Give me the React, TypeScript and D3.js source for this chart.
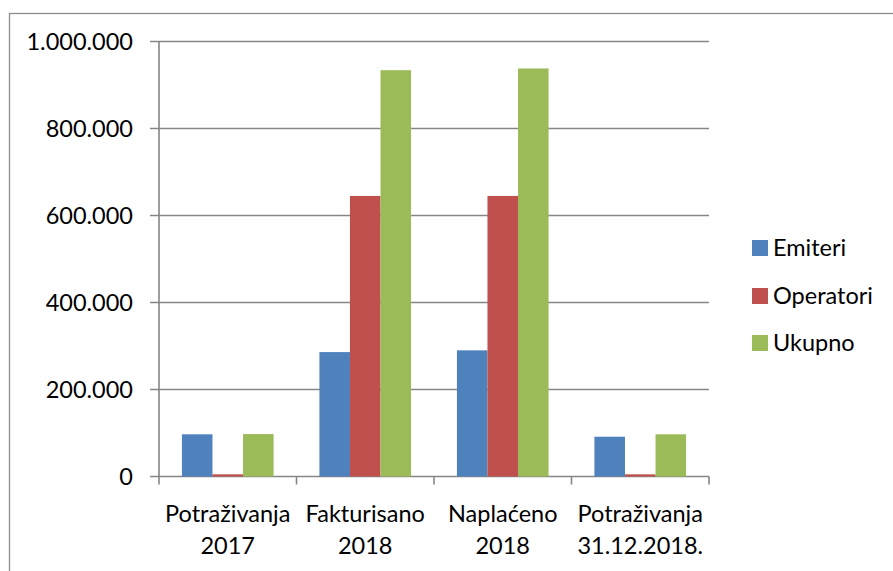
import React from "react";
import * as d3 from "d3";

const categories = [["Potraživanja", "2017"], ["Fakturisano", "2018"], ["Naplaćeno", "2018"], ["Potraživanja", "31.12.2018."]];
const seriesNames = ["Emiteri", "Operatori", "Ukupno"];
const emiteri = [97000, 286000, 290000, 91500];
const operatori = [5000, 645000, 645000, 5000];
const ukupno = [97500, 934000, 938000, 97000];
const yTicks = [0, 200000, 400000, 600000, 800000, 1000000];
const colors = ["#4F81BD", "#C0504D", "#9BBB59"];

const values = [emiteri, operatori, ukupno];
const FONT = "Lato, 'Open Sans', sans-serif";

export default function App() {
  const x0 = 159, x1 = 709, yTop = 41.5, yZero = 476.5;
  const x = d3.scaleBand<number>().domain(d3.range(categories.length)).range([x0, x1]).padding(0);
  const xi = d3.scaleBand<number>().domain(d3.range(seriesNames.length)).range([0, x.bandwidth()]).paddingInner(0).paddingOuter(0.75);
  const y = d3.scaleLinear().domain([0, 1000000]).range([yZero, yTop]);
  const loc = d3.formatLocale({ decimal: ",", thousands: ".", grouping: [3], currency: ["", ""] });
  const fmt = loc.format(",d");
  const grid = "#868686";
  const boundaries = d3.range(categories.length + 1).map(i => x0 + i * x.step());
  const fs = 23.5;

  return (
    <svg width={893} height={571} style={{ position: "absolute", left: 0, top: 0, background: "#fff" }} fontFamily={FONT}>
      <rect x={9.5} y={13.5} width={1000} height={1000} fill="#fff" stroke="#8c8c8c" strokeWidth={1.3} />
      {yTicks.map(t => (
        <g key={t}>
          <line x1={150} x2={x1} y1={y(t)} y2={y(t)} stroke={grid} strokeWidth={1.6} />
          <text x={133} y={y(t)} dy="0.36em" textAnchor="end" fontSize={fs} fill="#000">{fmt(t)}</text>
        </g>
      ))}
      {categories.map((c, i) =>
        seriesNames.map((s, j) => {
          const v = values[j][i];
          const bx = (x(i) as number) + (xi(j) as number);
          return <rect key={s + i} x={bx} y={y(v)} width={xi.bandwidth()} height={yZero - y(v)} fill={colors[j]} />;
        })
      )}
      <line x1={x0} x2={x0} y1={yTop} y2={yZero} stroke={grid} strokeWidth={1.6} />
      {boundaries.map((b, i) => (
        <line key={i} x1={b} x2={b} y1={yZero} y2={yZero + 8} stroke={grid} strokeWidth={1.6} />
      ))}
      {categories.map((c, i) => {
        const cx = (x(i) as number) + x.bandwidth() / 2;
        return (
          <text key={i} x={cx} textAnchor="middle" fontSize={fs} fill="#000">
            <tspan x={cx} y={522}>{c[0]}</tspan>
            <tspan x={cx} y={554}>{c[1]}</tspan>
          </text>
        );
      })}
      {seriesNames.map((s, j) => {
        const cy = [248, 296, 343][j];
        return (
          <g key={s}>
            <rect x={752} y={cy - 8} width={16} height={16} fill={colors[j]} />
            <text x={773} y={cy} dy="0.36em" fontSize={fs} fill="#000">{s}</text>
          </g>
        );
      })}
    </svg>
  );
}
